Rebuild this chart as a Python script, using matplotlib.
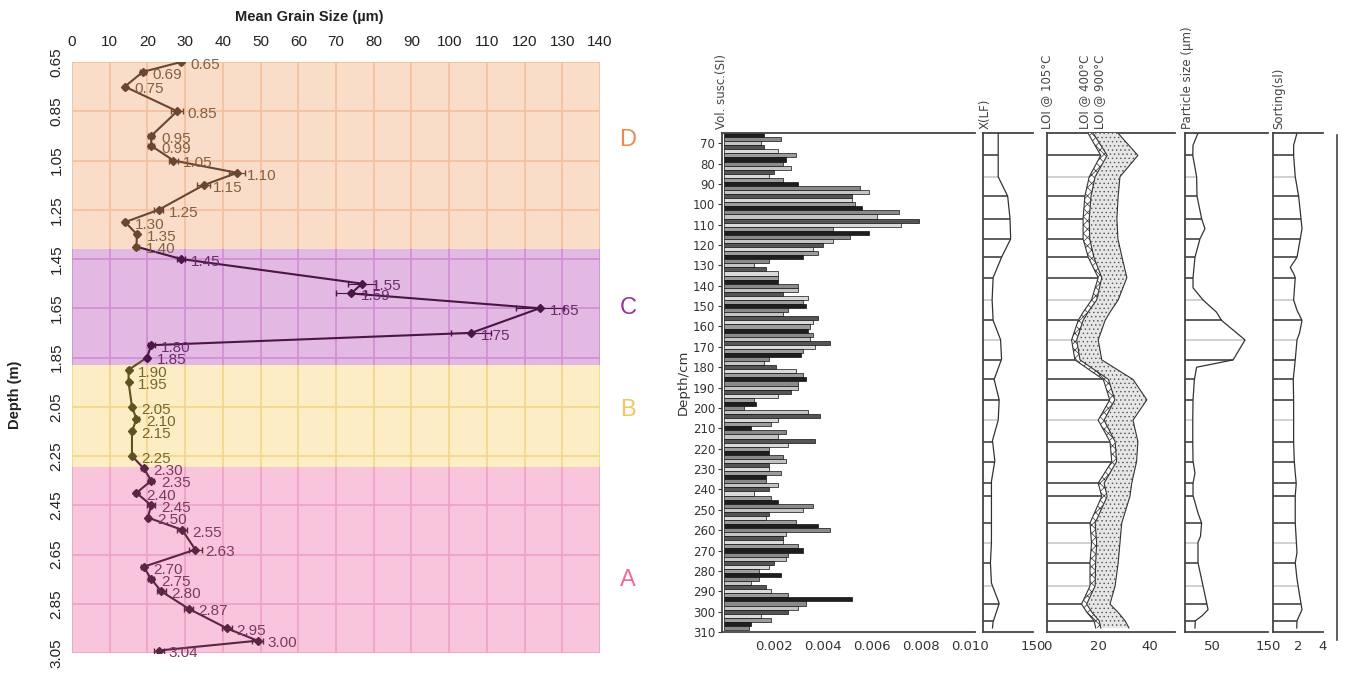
import numpy as np
import matplotlib.pyplot as plt
from matplotlib.lines import Line2D

plt.rcParams['font.family'] = ['DejaVu Sans']
plt.rcParams['hatch.linewidth'] = 0.5

W, H = 1347, 673
LEFT_FONT = ['Liberation Sans', 'DejaVu Sans']

# ---------------- left panel: mean grain size vs depth ----------------
depth_m = [0.65, 0.69, 0.75, 0.85, 0.95, 0.99, 1.05, 1.10, 1.15, 1.25, 1.30, 1.35, 1.40,
           1.45, 1.55, 1.59, 1.65, 1.75, 1.80, 1.85,
           1.90, 1.95, 2.05, 2.10, 2.15, 2.25,
           2.30, 2.35, 2.40, 2.45, 2.50, 2.55, 2.63, 2.70, 2.75, 2.80, 2.87, 2.95, 3.00, 3.04]
grain = [28.9, 18.8, 14.0, 27.9, 21.0, 21.0, 26.9, 43.8, 34.9, 23.0, 14.1, 17.2, 17.1,
         28.9, 76.9, 74.0, 124.0, 105.9, 21.0, 19.9,
         15.0, 15.0, 15.9, 17.1, 15.9, 15.9,
         19.0, 21.0, 17.1, 21.0, 20.1, 29.2, 32.7, 19.0, 21.0, 23.7, 30.9, 41.1, 49.2, 23.0]
grain_err = [0.5, 0.8, 0.6, 1.6, 0.8, 0.8, 1.3, 2.2, 1.7, 1.2, 0.6, 0.6, 0.6,
             1.1, 3.8, 3.9, 6.4, 5.3, 0.9, 0.6,
             0.5, 0.5, 0.6, 0.6, 0.6, 0.6,
             0.6, 0.8, 0.6, 1.0, 0.6, 1.3, 1.8, 0.6, 0.8, 1.2, 1.3, 1.3, 1.5, 1.3]
point_zone = ['D'] * 13 + ['C'] * 7 + ['B'] * 6 + ['A'] * 14

zone_names = ['D', 'C', 'B', 'A']
zone_top = [0.65, 1.41, 1.88, 2.295]
zone_bottom = [1.41, 1.88, 2.295, 3.05]
zone_face = ['#f9ddc8', '#e2b9e2', '#fdedc4', '#f9c5dc']
zone_grid = ['#f4c29f', '#d38fd6', '#f3d88c', '#f0a3c5']
zone_line = ['#6b4630', '#4a1547', '#5e5220', '#5b2645']
zone_text = ['#85603f', '#6d2b6d', '#76682c', '#7b3a60']
zone_letter = ['#ee8a50', '#9a2e9a', '#f5c660', '#ee6aa0']
zone_letter_y = [140, 308, 410, 580]

depth_ticks = [0.65, 0.85, 1.05, 1.25, 1.45, 1.65, 1.85, 2.05, 2.25, 2.45, 2.65, 2.85, 3.05]
grain_ticks = [0, 10, 20, 30, 40, 50, 60, 70, 80, 90, 100, 110, 120, 130, 140]

# ---------------- right panel: core log (depth in cm) ----------------
susc_depth = np.arange(66, 309, 2)
susc = [0.0016, 0.0023, 0.0015, 0.0016, 0.0022, 0.0029, 0.0025, 0.0024, 0.0027, 0.0020,
        0.0018, 0.0024, 0.0030, 0.0055, 0.0059, 0.0052, 0.0052, 0.0053, 0.0056, 0.0071,
        0.0062, 0.0079, 0.0072, 0.0044, 0.0059, 0.0051, 0.0044, 0.0040, 0.0036, 0.0038,
        0.0032, 0.0018, 0.0012, 0.0017, 0.0022, 0.0022, 0.0022, 0.0030, 0.0030, 0.0024,
        0.0034, 0.0032, 0.0033, 0.0026, 0.0024, 0.0038, 0.0036, 0.0035, 0.0034, 0.0036,
        0.0035, 0.0043, 0.0037, 0.0032, 0.0031, 0.0018, 0.0016, 0.0021, 0.0029, 0.0032,
        0.0033, 0.0030,
        0.0030, 0.0027, 0.0022, 0.0012, 0.0013, 0.0008, 0.0034, 0.0039, 0.0022, 0.0019,
        0.0011, 0.0025, 0.0022, 0.0037, 0.0026, 0.0018, 0.0018, 0.0024, 0.0025, 0.0018,
        0.0018, 0.0023, 0.0017, 0.0017, 0.0022, 0.0018, 0.0012, 0.0019, 0.0022, 0.0036,
        0.0032, 0.0018, 0.0017, 0.0029, 0.0038, 0.0043, 0.0025, 0.0024, 0.0024, 0.0030,
        0.0032, 0.0026, 0.0025, 0.0020, 0.0018, 0.0014, 0.0023, 0.0014, 0.0011, 0.0017,
        0.0019, 0.0026, 0.0052, 0.0033, 0.0030, 0.0026, 0.0015, 0.0019, 0.0011, 0.0010]

xlf_depth = [65, 76, 86.5, 96, 107, 117, 126, 136, 147, 157, 166.5, 176, 186, 196, 206,
             216, 226, 236, 247, 256, 266, 276, 286, 296, 305, 308]
xlf = [45.6, 45.6, 45.6, 74, 81, 83, 55.7, 30.4, 27.4, 30.4, 52.7, 55.7, 33.4, 48.6, 45.6,
       28.4, 35.5, 25.3, 25.3, 25.3, 25.3, 22.3, 25.3, 48.6, 30.4, 28.4]

loi_depth = [65, 76, 86.5, 96, 107, 117, 126, 136, 147, 153, 157, 166.6, 176.4, 186,
             196, 206, 216.5, 226.3, 236.9, 243.4, 256.5, 266.3, 276, 287.4, 296.3,
             300.4, 304.5, 308]
loi105 = [16, 21, 16.5, 14.8, 14.1, 14.1, 16.1, 20, 17.4, 14.1, 12.2, 9.6, 10.9, 22,
          24.5, 20, 24.6, 25.3, 20, 21.4, 16.8, 17.4, 16.8, 16.8, 13.5, 15.6, 18.4, 19]
loi400 = [18, 23.5, 18.8, 17.2, 16.5, 16.7, 18.3, 21.4, 19.4, 16, 14.1, 11.6, 12.9, 24,
          26.5, 22.3, 26.6, 27.2, 22.3, 23.5, 18.8, 19.4, 19, 18.8, 15.5, 17.6, 20.4, 21]
loi900 = [27.7, 35.5, 28.5, 27.8, 27.3, 27.7, 29.3, 31.2, 27.8, 24.6, 22.7, 20, 21.4, 33.6,
          39, 33.6, 35.5, 35, 33.1, 32.4, 29.2, 28.5, 27.8, 26.6, 24.6, 27.8, 30.5, 32]

ps_depth = [65, 71, 76, 86.5, 96, 107, 112, 117, 126, 136, 141, 147, 153, 157, 166.6,
            176.4, 180, 186, 196, 206, 216.5, 226, 232, 237, 243, 251.6, 256.5, 263, 266,
            276, 287.4, 299, 302, 304.5, 308]
ps = [23.5, 14.5, 14, 21, 21.7, 30, 36, 27, 18, 14.5, 14.5, 32.6, 57, 66, 108.5,
      87, 21, 17, 14.5, 14, 14, 14.5, 18, 14.5, 14.5, 23.5, 30, 28, 23.5,
      23.5, 32.6, 41.7, 31, 18.7, 18]

sort_depth = [65, 71, 76, 86.5, 96, 107, 112, 117, 126, 131, 134, 136, 147, 152, 157, 163,
              166.6, 176.4, 186, 196, 206, 216.5, 226, 232, 237, 243, 251.6, 256.5, 271,
              276, 284, 292, 299, 304.5, 308]
sorting = [1.92, 1.65, 1.65, 1.78, 2.05, 2.24, 2.32, 2.18, 1.92, 1.38, 1.65, 1.78, 1.65,
           1.92, 2.32, 2.13, 1.92, 1.78, 1.62, 1.65, 1.65, 1.65, 1.7, 1.78, 1.86, 1.78,
           1.78, 1.78, 1.92, 1.78, 1.92, 2.13, 2.32, 1.92, 1.9]

dark_lines = [76, 96, 107, 117, 126, 136, 157, 176.4, 186, 196, 216.5, 226.3, 236.9,
              243.4, 256.5, 276, 296.3, 304.5]
grey_lines = [86.5, 147, 166.6, 206, 266.3, 287.4]


def box(x0, y0, x1, y1):
    """pixel box (top-left origin) -> figure fraction rect"""
    return [x0 / W, 1 - y1 / H, (x1 - x0) / W, (y1 - y0) / H]


fig = plt.figure(figsize=(W / 100, H / 100), dpi=100)

# --- left chart ---------------------------------------------------------
ax = fig.add_axes(box(72, 62, 600, 653))
ax.set_xlim(0, 140)
ax.set_ylim(3.05, 0.65)
for top, bot, face, grid in zip(zone_top, zone_bottom, zone_face, zone_grid):
    ax.axhspan(top, bot, color=face, lw=0, zorder=0)
    ax.vlines(grain_ticks, top, bot, color=grid, lw=1.3, zorder=1)
for d in depth_ticks:
    zi = max(i for i, t in enumerate(zone_top) if t <= d + 1e-9)
    ax.hlines(d, 0, 140, color=zone_grid[zi], lw=1.3, zorder=1)

for zi, name in enumerate(zone_names):
    idx = [i for i, z in enumerate(point_zone) if z == name]
    line_idx = ([idx[0] - 1] if idx[0] > 0 else []) + idx
    c = zone_line[zi]
    ax.plot([grain[i] for i in line_idx], [depth_m[i] for i in line_idx],
            color=c, lw=1.5, zorder=3)
    ax.errorbar([grain[i] for i in idx], [depth_m[i] for i in idx],
                xerr=[grain_err[i] for i in idx], fmt='D', ms=4.5, color=c,
                ecolor=c, elinewidth=0.8, capsize=2.5, zorder=4)
    for i in idx:
        ax.annotate(f"{depth_m[i]:.2f}", (grain[i], depth_m[i]), xytext=(7, -2),
                    textcoords='offset points', fontsize=11, color=zone_text[zi],
                    va='center', ha='left', zorder=5, family=LEFT_FONT)
    fig.text(628 / W, 1 - zone_letter_y[zi] / H, name, fontsize=17,
             color=zone_letter[zi], ha='center', va='center', family=LEFT_FONT)

ax.xaxis.tick_top()
ax.set_xticks(grain_ticks)
ax.set_yticks(depth_ticks)
ax.set_yticklabels([f"{d:.2f}" for d in depth_ticks], rotation=90, va='center')
ax.tick_params(length=0, labelsize=11, colors='#222')
ax.tick_params(axis='x', pad=9)
ax.tick_params(axis='y', pad=6)
for lab in ax.get_xticklabels() + ax.get_yticklabels():
    lab.set_family(LEFT_FONT)
for sp in ax.spines.values():
    sp.set_visible(False)
fig.text(309 / W, 1 - 17 / H, "Mean Grain Size (µm)", fontsize=10.5, weight='bold',
         ha='center', va='center', color='#222', family=LEFT_FONT)
fig.text(15 / W, 1 - 395 / H, "Depth (m)", fontsize=10.5, weight='bold', rotation=90,
         ha='center', va='center', color='#222', family=LEFT_FONT)

# --- right chart: core log ---------------------------------------------
Y0, Y1 = 133, 632
YLIM = (310, 65)
spine_col = '#444444'


def log_axes(x0, x1, xlim, ticks, labels):
    a = fig.add_axes(box(x0, Y0, x1, Y1))
    a.set_xlim(*xlim)
    a.set_ylim(*YLIM)
    a.spines['right'].set_visible(False)
    for s in ['left', 'top', 'bottom']:
        a.spines[s].set_color(spine_col)
        a.spines[s].set_linewidth(1.3)
    a.set_xticks(ticks)
    a.set_xticklabels(labels)
    a.tick_params(axis='x', length=0, labelsize=9.5, colors='#333', pad=6)
    a.set_yticks([])
    return a


def sample_lines(a, curve_depth, curve_vals):
    ends_d = np.interp(dark_lines, curve_depth, curve_vals)
    ends_g = np.interp(grey_lines, curve_depth, curve_vals)
    a.hlines(grey_lines, 0, ends_g, color='#c8c8c8', lw=1.2, zorder=1)
    a.hlines(dark_lines, 0, ends_d, color='#333333', lw=1.1, zorder=2)


# volume susceptibility bars
ax_s = log_axes(722, 975, (-0.0001, 0.0102), [0.002, 0.004, 0.006, 0.008, 0.010],
                ['0.002', '0.004', '0.006', '0.008', '0.010'])
bar_cols = ['#1e1e1e', '#8a8a8a', '#c4c4c4', '#555555', '#dadada', '#9c9c9c']
ax_s.barh(susc_depth, susc, height=2, left=0,
          color=[bar_cols[i % len(bar_cols)] for i in range(len(susc))],
          edgecolor='#111111', linewidth=0.5, zorder=2)
ax_s.set_yticks(np.arange(70, 311, 10))
ax_s.tick_params(axis='y', length=3, labelsize=8.5, colors='#333', pad=2)
ax_s.set_ylabel("Depth/cm", fontsize=9.5, color='#333', labelpad=2)

# magnetic susceptibility (low frequency)
ax_x = log_axes(983, 1033, (0, 150), [150], ['150'])
sample_lines(ax_x, xlf_depth, xlf)
ax_x.plot(xlf, xlf_depth, color='#333', lw=0.9, zorder=3)

# loss on ignition
ax_l = log_axes(1047, 1175, (0, 50), [0, 20, 40], ['0', '20', '40'])
sample_lines(ax_l, loi_depth, loi105)
ax_l.fill_betweenx(loi_depth, loi105, loi400, facecolor='white', edgecolor='#333',
                   hatch='xxxx', lw=0, zorder=3)
ax_l.fill_betweenx(loi_depth, loi400, loi900, facecolor='#e6e6e6', edgecolor='#555',
                   hatch='....', lw=0, zorder=3)
for curve in (loi105, loi400, loi900):
    ax_l.plot(curve, loi_depth, color='#333', lw=0.8, zorder=4)

# particle size
ax_p = log_axes(1185, 1268, (0, 150), [50, 150], ['50', '150'])
sample_lines(ax_p, ps_depth, ps)
ax_p.plot(ps, ps_depth, color='#333', lw=0.9, zorder=3)

# sorting
ax_o = log_axes(1273, 1323, (0, 4), [2, 4], ['2', '4'])
sample_lines(ax_o, sort_depth, sorting)
ax_o.plot(sorting, sort_depth, color='#333', lw=0.9, zorder=3)

fig.add_artist(Line2D([1337 / W, 1337 / W], [1 - 135 / H, 1 - 640 / H],
                      color=spine_col, lw=1.2))

# rotated column headers
headers = [(722, "Vol. susc.(SI)"), (985, "X(LF)"), (1047, "LOI @ 105°C"),
           (1085, "LOI @ 400°C"), (1100, "LOI @ 900°C"),
           (1187, "Particle size (µm)"), (1279, "Sorting(sl)")]
for hx, txt in headers:
    fig.text(hx / W, 1 - 129 / H, txt, rotation=90, fontsize=8.5, color='#444',
             ha='center', va='bottom')

fig.savefig("out.png", dpi=100)
